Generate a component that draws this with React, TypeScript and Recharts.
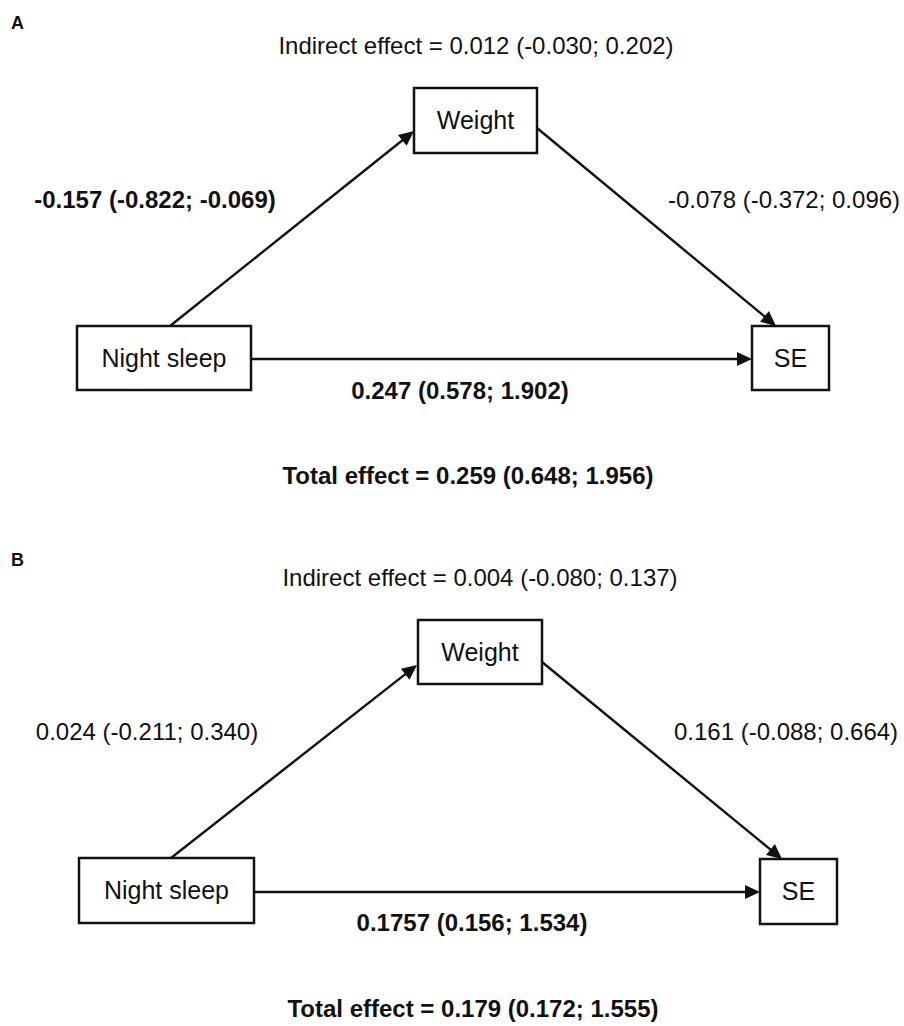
import { ReferenceLine, Scatter, ScatterChart, XAxis, YAxis } from "recharts";

const panelNames = ["A", "B"];
const nodeNames = ["Night sleep", "Weight", "SE"];
// order: indirect, a (sleep -> weight), b (weight -> SE), direct, total
const effectKinds = ["indirect", "a", "b", "direct", "total"];

// estimates with 95% CI
const estimatesA = ["0.012", "-0.157", "-0.078", "0.247", "0.259"];
const lowerA = ["-0.030", "-0.822", "-0.372", "0.578", "0.648"];
const upperA = ["0.202", "-0.069", "0.096", "1.902", "1.956"];

const estimatesB = ["0.004", "0.024", "0.161", "0.1757", "0.179"];
const lowerB = ["-0.080", "-0.211", "-0.088", "0.156", "0.172"];
const upperB = ["0.137", "0.340", "0.664", "1.534", "1.555"];

const panelValues = [
    { est: estimatesA, lo: lowerA, hi: upperA },
    { est: estimatesB, lo: lowerB, hi: upperB },
];

// diagram layout in panel units (1 unit = 1px), kept apart from the values
const WIDTH = 904;
const layouts = [
    {
        height: 532,
        letter: [11, 23],
        boxes: [[164, 358, 174, 64], [475.5, 120.5, 123, 65], [790.5, 358, 77, 64]],
        edges: [[170, 326, 414, 131], [537, 128, 776, 326], [251, 359, 752, 359]],
        labels: [[476, 46], [155, 200], [784, 200], [460, 391], [468, 476]],
    },
    {
        height: 494,
        letter: [11, 28],
        boxes: [[166.5, 358.5, 175, 65], [480, 120, 124, 64], [798.5, 359.5, 77, 65]],
        edges: [[171, 326, 417, 133], [542, 130, 782, 327], [254, 360, 760, 360]],
        labels: [[480, 46], [147, 200], [786, 200], [472, 391], [473, 477]],
    },
];

const FONT = "'Liberation Sans', Arial, Helvetica, sans-serif";
const INK = "#111";

function fmt(kind: string, est: string, lo: string, hi: string) {
    const body = `${est} (${lo}; ${hi})`;
    if (kind === "indirect") return `Indirect effect = ${body}`;
    if (kind === "total") return `Total effect = ${body}`;
    return body;
}

function NodeBox(props: any) {
    const { cx, cy, payload } = props;
    return (
        <g>
            <rect
                x={cx - payload.w / 2}
                y={cy - payload.h / 2}
                width={payload.w}
                height={payload.h}
                fill="#fff"
                stroke={INK}
                strokeWidth={2.5}
            />
            <text x={cx} y={cy} dy=".35em" textAnchor="middle" fontSize={25} fontFamily={FONT} fill={INK}>
                {payload.name}
            </text>
        </g>
    );
}

function EffectText(props: any) {
    const { cx, cy, payload } = props;
    return (
        <text
            x={cx}
            y={cy}
            dy=".35em"
            textAnchor={payload.anchor}
            fontSize={payload.size}
            fontWeight={payload.bold ? "bold" : "normal"}
            fontFamily={FONT}
            fill={INK}
        >
            {payload.text}
        </text>
    );
}

function Arrow(props: any) {
    const { x1, y1, x2, y2 } = props;
    const ang = Math.atan2(y2 - y1, x2 - x1);
    const len = 15;
    const half = 7;
    const bx = x2 - len * Math.cos(ang);
    const by = y2 - len * Math.sin(ang);
    const px = -Math.sin(ang) * half;
    const py = Math.cos(ang) * half;
    return (
        <g>
            <line x1={x1} y1={y1} x2={bx + Math.cos(ang)} y2={by + Math.sin(ang)} stroke={INK} strokeWidth={2.4} />
            <polygon points={`${x2},${y2} ${bx + px},${by + py} ${bx - px},${by - py}`} fill={INK} />
        </g>
    );
}

function Panel({ index }: { index: number }) {
    const lay = layouts[index];
    const vals = panelValues[index];

    const nodes = nodeNames.map((name, i) => ({
        x: lay.boxes[i][0],
        y: lay.boxes[i][1],
        w: lay.boxes[i][2],
        h: lay.boxes[i][3],
        name,
    }));

    const texts = [
        { x: lay.letter[0], y: lay.letter[1], text: panelNames[index], bold: true, size: 18, anchor: "start" },
        ...effectKinds.map((kind, i) => ({
            x: lay.labels[i][0],
            y: lay.labels[i][1],
            text: fmt(kind, vals.est[i], vals.lo[i], vals.hi[i]),
            // bold when the CI excludes zero
            bold: parseFloat(vals.lo[i]) * parseFloat(vals.hi[i]) > 0,
            size: 24,
            anchor: "middle",
        })),
    ];

    return (
        <ScatterChart
            width={WIDTH}
            height={lay.height}
            margin={{ top: 0, right: 0, bottom: 0, left: 0 }}
        >
            <XAxis type="number" dataKey="x" domain={[0, WIDTH]} allowDataOverflow hide />
            <YAxis type="number" dataKey="y" domain={[0, lay.height]} allowDataOverflow reversed hide />
            {lay.edges.map((e, i) => (
                <ReferenceLine
                    key={i}
                    segment={[{ x: e[0], y: e[1] }, { x: e[2], y: e[3] }]}
                    shape={Arrow}
                    ifOverflow="visible"
                />
            ))}
            <Scatter data={nodes} shape={NodeBox} isAnimationActive={false} />
            <Scatter data={texts} shape={EffectText} isAnimationActive={false} />
        </ScatterChart>
    );
}

export default function App() {
    return (
        <div style={{ width: WIDTH, background: "#fff" }}>
            <style>{"body { margin: 0; }"}</style>
            <Panel index={0} />
            <Panel index={1} />
        </div>
    );
}
